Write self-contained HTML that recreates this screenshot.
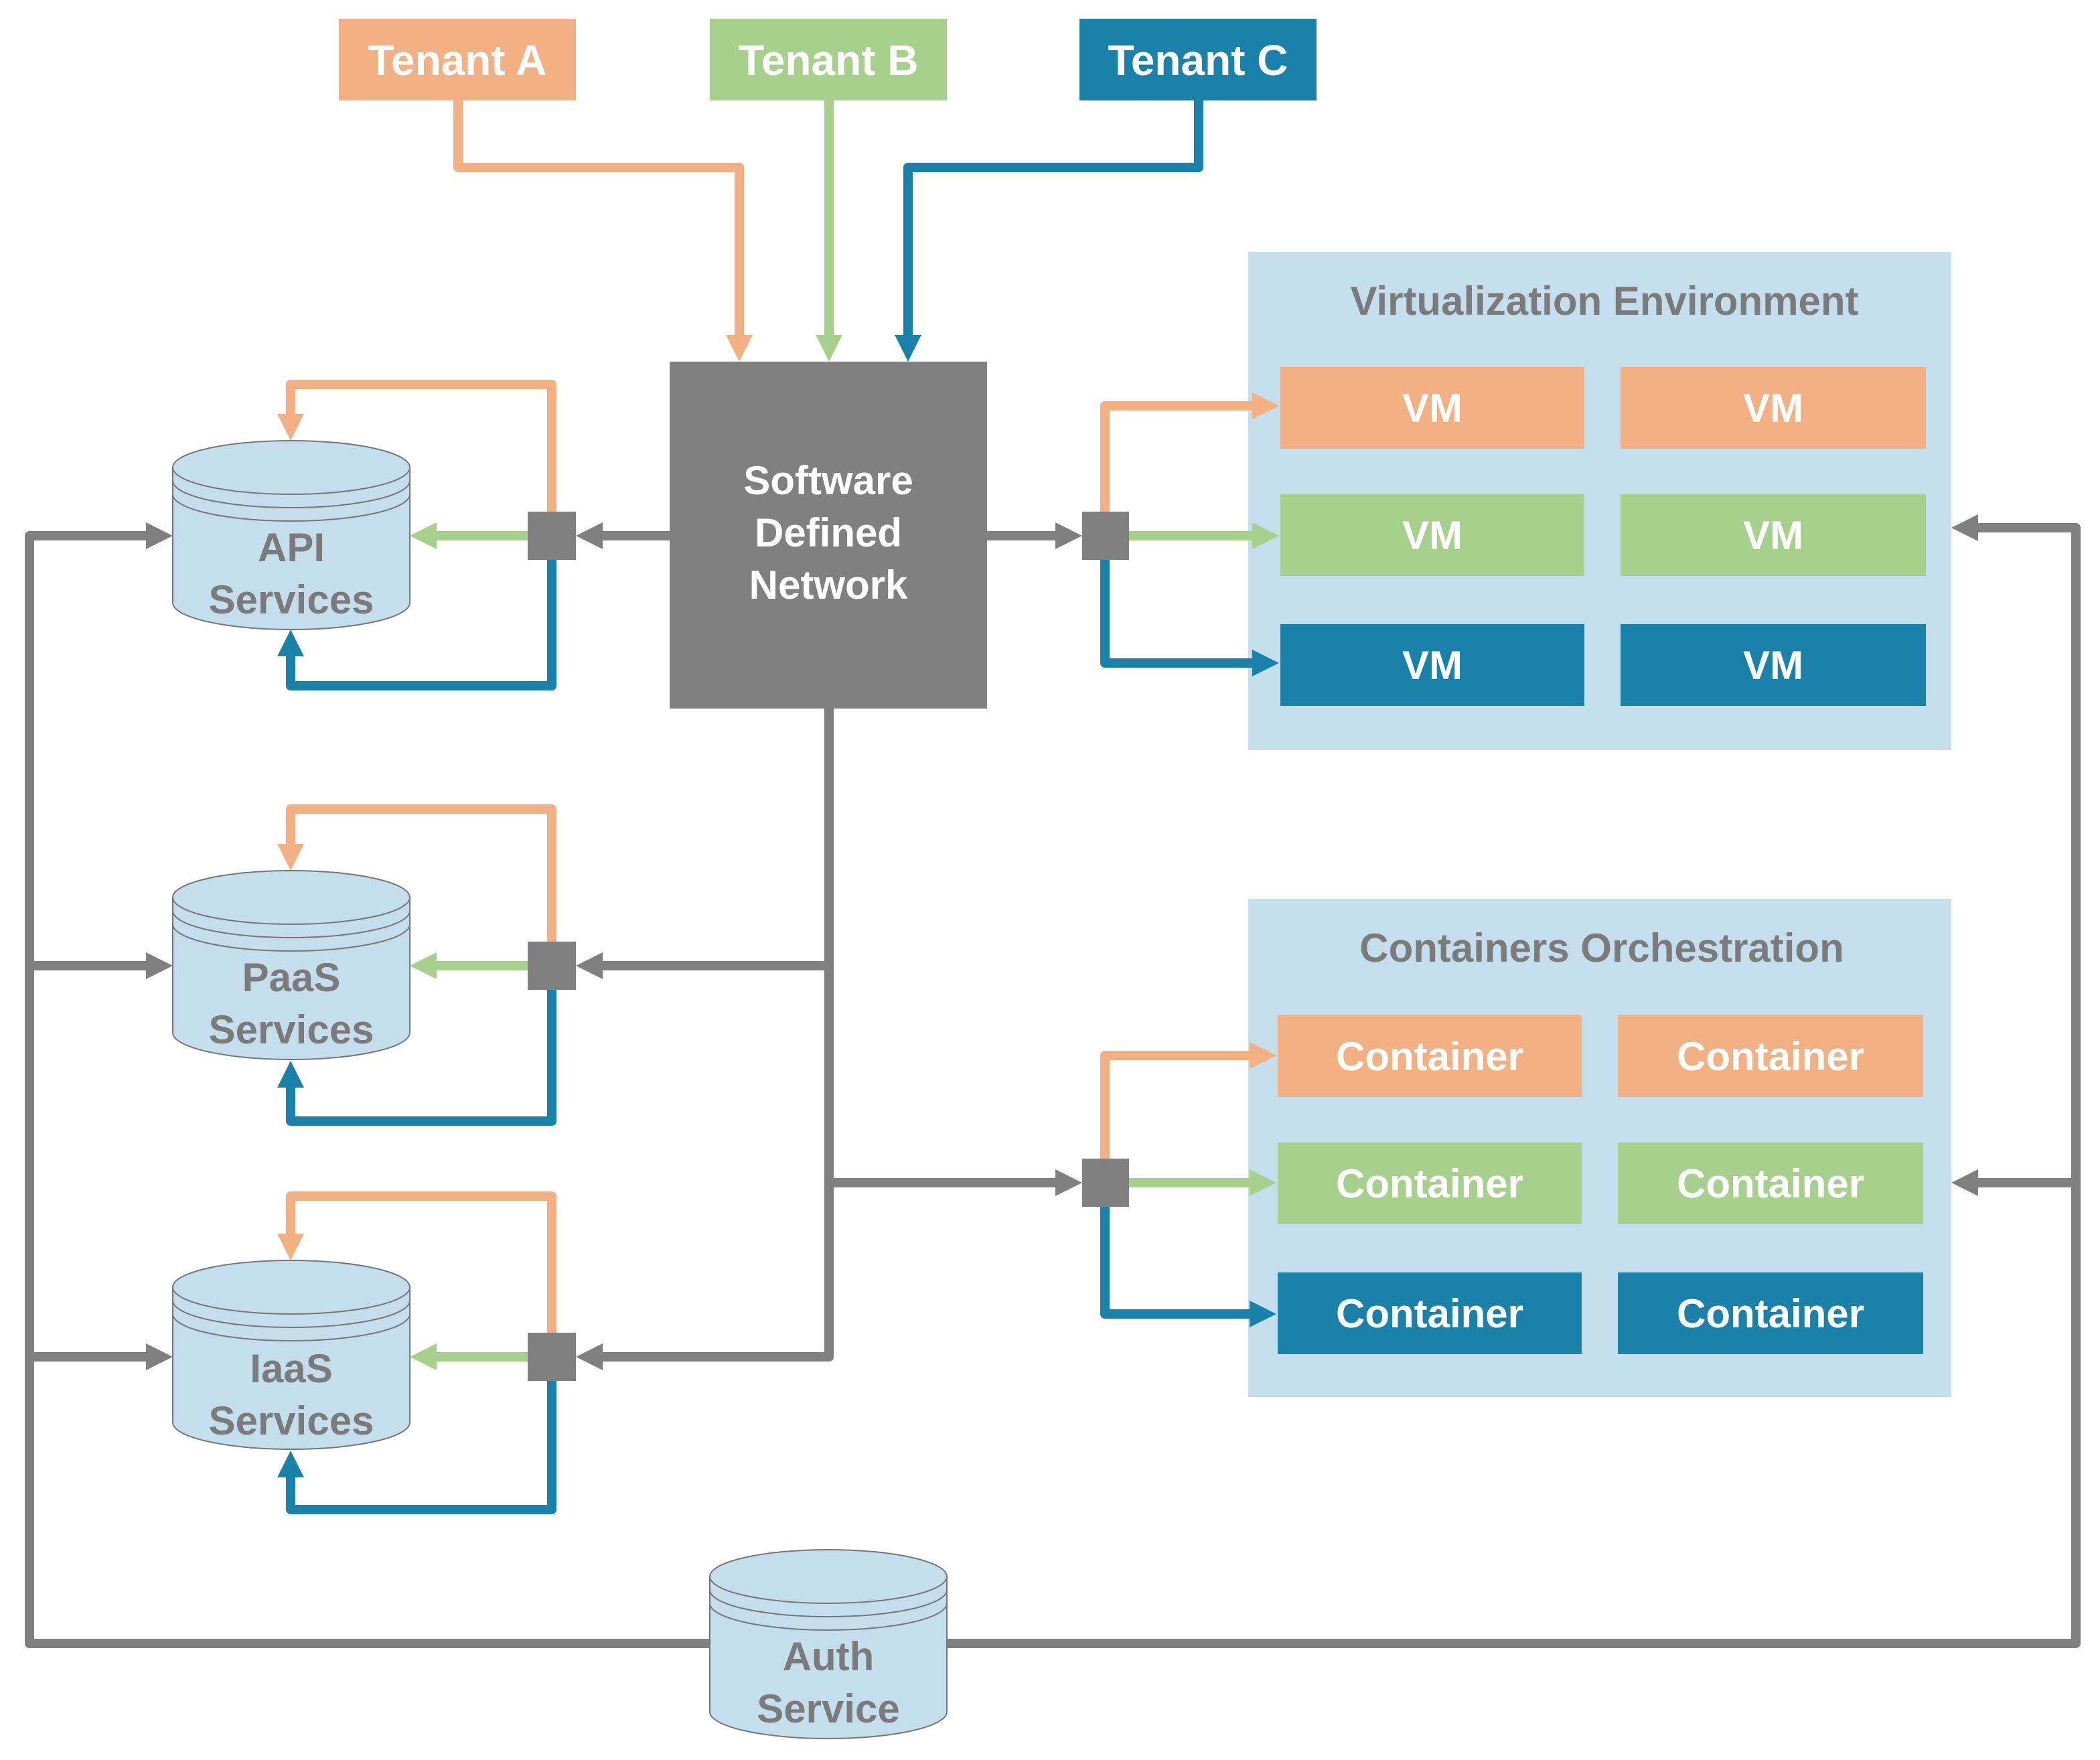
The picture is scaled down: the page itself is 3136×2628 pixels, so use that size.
<!DOCTYPE html>
<html><head><meta charset="utf-8"><style>html,body{margin:0;padding:0;background:#fff}svg{display:block}</style></head>
<body>
<svg width="3136" height="2628" viewBox="0 0 3136 2628" xmlns="http://www.w3.org/2000/svg" font-family="Liberation Sans, sans-serif" font-weight="bold">
<defs>
<g id="cyl">
<path d="M0 40 V242 A177 40 0 0 0 354 242 V40 Z" fill="#C5DEED" stroke="#777" stroke-width="2"/>
<ellipse cx="177" cy="40" rx="177" ry="40" fill="#C5DEED" stroke="#777" stroke-width="2"/>
<path d="M0 40 V60 A177 40 0 0 0 354 60 V40" fill="none" stroke="#777" stroke-width="2"/>
<path d="M0 60 V80 A177 40 0 0 0 354 80 V60" fill="none" stroke="#777" stroke-width="2"/>
</g>
</defs>
<rect width="3136" height="2628" fill="#fff"/>

<!-- containers -->
<rect x="1864" y="376" width="1050" height="744" fill="#C5DEED"/>
<rect x="1864" y="1342" width="1050" height="744" fill="#C5DEED"/>
<g fill="#7b7b7b" font-size="60" text-anchor="middle">
<text x="2396" y="470">Virtualization Environment</text>
<text x="2392" y="1436">Containers Orchestration</text>
</g>

<!-- lines -->
<g fill="none" stroke-width="14" stroke-linejoin="round">
<path d="M684 150 V250 H1104 V500" stroke="#F3B083"/>
<path d="M1238 150 V500" stroke="#A8D08D"/>
<path d="M1790 150 V250 H1356 V500" stroke="#1A82AA"/>
<g stroke="#808080">
<path d="M1000 800 H900"/>
<path d="M1060 2454 H44 V800 H218"/>
<path d="M44 1442 H218"/><path d="M44 2026 H218"/>
<path d="M1238 1058 V2026 H900"/>
<path d="M1238 1442 H900"/>
<path d="M1238 1766 H1576"/>
<path d="M1474 800 H1576"/>
<path d="M1414 2454 H3100 V788 H2954"/>
<path d="M3100 1766 H2954"/>
</g>
<g stroke="#F3B083">
<path d="M824 764 V574 H434 V618"/>
<path d="M824 1406 V1208 H434 V1260"/>
<path d="M824 1990 V1786 H434 V1842"/>
<path d="M1650 764 V606 H1870"/>
<path d="M1650 1730 V1576 H1866"/>
</g>
<g stroke="#1A82AA">
<path d="M824 836 V1024 H434 V980"/>
<path d="M824 1478 V1674 H434 V1624"/>
<path d="M824 2062 V2254 H434 V2206"/>
<path d="M1650 836 V990 H1870"/>
<path d="M1650 1802 V1962 H1866"/>
</g>
<g stroke="#A8D08D">
<path d="M788 800 H652"/><path d="M788 1442 H652"/><path d="M788 2026 H652"/>
<path d="M1684 800 H1870"/><path d="M1684 1766 H1866"/>
</g>
</g>

<!-- arrowheads -->
<g fill="#F3B083">
<polygon points="1084,500 1124,500 1104,540"/>
<polygon points="414,618 454,618 434,658"/>
<polygon points="414,1260 454,1260 434,1300"/>
<polygon points="414,1842 454,1842 434,1882"/>
<polygon points="1870,586 1870,626 1910,606"/>
<polygon points="1866,1556 1866,1596 1906,1576"/>
</g>
<g fill="#A8D08D">
<polygon points="1218,500 1258,500 1238,540"/>
<polygon points="652,780 652,820 612,800"/>
<polygon points="652,1422 652,1462 612,1442"/>
<polygon points="652,2006 652,2046 612,2026"/>
<polygon points="1870,780 1870,820 1910,800"/>
<polygon points="1866,1746 1866,1786 1906,1766"/>
</g>
<g fill="#1A82AA">
<polygon points="1336,500 1376,500 1356,540"/>
<polygon points="414,980 454,980 434,940"/>
<polygon points="414,1624 454,1624 434,1584"/>
<polygon points="414,2206 454,2206 434,2166"/>
<polygon points="1870,970 1870,1010 1910,990"/>
<polygon points="1866,1942 1866,1982 1906,1962"/>
</g>
<g fill="#808080">
<polygon points="900,780 900,820 860,800"/>
<polygon points="900,1422 900,1462 860,1442"/>
<polygon points="900,2006 900,2046 860,2026"/>
<polygon points="218,780 218,820 258,800"/>
<polygon points="218,1422 218,1462 258,1442"/>
<polygon points="218,2006 218,2046 258,2026"/>
<polygon points="1576,780 1576,820 1616,800"/>
<polygon points="1576,1746 1576,1786 1616,1766"/>
<polygon points="2954,768 2954,808 2914,788"/>
<polygon points="2954,1746 2954,1786 2914,1766"/>
<!-- hubs -->
<rect x="788" y="764" width="72" height="72"/>
<rect x="788" y="1406" width="72" height="72"/>
<rect x="788" y="1990" width="72" height="72"/>
<rect x="1616" y="764" width="70" height="72"/>
<rect x="1616" y="1730" width="70" height="72"/>
</g>

<!-- tenants -->
<rect x="506" y="28" width="354" height="122" fill="#F3B083"/>
<rect x="1060" y="28" width="354" height="122" fill="#A8D08D"/>
<rect x="1612" y="28" width="354" height="122" fill="#1A82AA"/>
<g fill="#fff" font-size="64" text-anchor="middle">
<text x="683" y="112">Tenant A</text>
<text x="1237" y="112">Tenant B</text>
<text x="1789" y="112">Tenant C</text>
</g>

<!-- SDN -->
<rect x="1000" y="540" width="474" height="518" fill="#808080"/>
<g fill="#fff" font-size="60" text-anchor="middle">
<text x="1237" y="738">Software</text>
<text x="1237" y="816">Defined</text>
<text x="1237" y="894">Network</text>
</g>

<!-- VMs -->
<g fill="#F3B083"><rect x="1912" y="548" width="454" height="122"/><rect x="2420" y="548" width="456" height="122"/>
<rect x="1908" y="1516" width="454" height="122"/><rect x="2416" y="1516" width="456" height="122"/></g>
<g fill="#A8D08D"><rect x="1912" y="738" width="454" height="122"/><rect x="2420" y="738" width="456" height="122"/>
<rect x="1908" y="1706" width="454" height="122"/><rect x="2416" y="1706" width="456" height="122"/></g>
<g fill="#1A82AA"><rect x="1912" y="932" width="454" height="122"/><rect x="2420" y="932" width="456" height="122"/>
<rect x="1908" y="1900" width="454" height="122"/><rect x="2416" y="1900" width="456" height="122"/></g>
<g fill="#fff" font-size="60" text-anchor="middle">
<text x="2139" y="630">VM</text><text x="2648" y="630">VM</text>
<text x="2139" y="820">VM</text><text x="2648" y="820">VM</text>
<text x="2139" y="1014">VM</text><text x="2648" y="1014">VM</text>
<text x="2135" y="1598">Container</text><text x="2644" y="1598">Container</text>
<text x="2135" y="1788">Container</text><text x="2644" y="1788">Container</text>
<text x="2135" y="1982">Container</text><text x="2644" y="1982">Container</text>
</g>

<!-- cylinders -->
<use href="#cyl" x="258" y="658"/>
<use href="#cyl" x="258" y="1300"/>
<use href="#cyl" x="258" y="1882"/>
<use href="#cyl" x="1060" y="2314"/>
<g fill="#7b7b7b" font-size="60" text-anchor="middle">
<text x="435" y="838">API</text><text x="435" y="916">Services</text>
<text x="435" y="1480">PaaS</text><text x="435" y="1558">Services</text>
<text x="435" y="2064">IaaS</text><text x="435" y="2142">Services</text>
<text x="1237" y="2494">Auth</text><text x="1237" y="2572">Service</text>
</g>
</svg>
</body></html>
